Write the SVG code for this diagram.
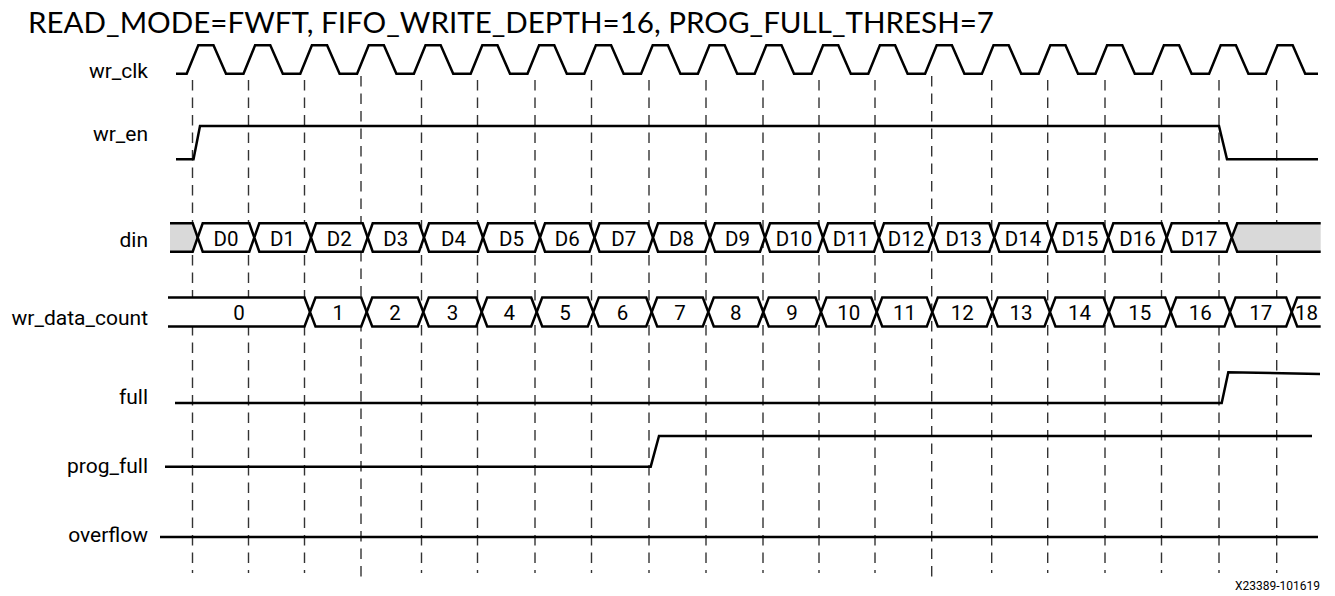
<svg xmlns="http://www.w3.org/2000/svg" width="1335" height="596" viewBox="0 0 1335 596">
<style>
.w{fill:none;stroke:#000;stroke-width:2.5;stroke-linejoin:miter}
.bus{fill:#fff;stroke:#000;stroke-width:2.5}
.gray{fill:#d9d9d9;stroke:#000;stroke-width:2.5}
.dash{stroke:#333;stroke-width:1.4;stroke-dasharray:10.5 7}
.lbl{font-family:Roboto,"Liberation Sans",sans-serif;font-size:21px;fill:#000;text-anchor:end}
.bt{font-family:Roboto,"Liberation Sans",sans-serif;font-size:20.5px;fill:#000;text-anchor:middle}
.title{font-family:Lato,"Liberation Sans",sans-serif;font-size:29.5px;fill:#000}
.note{font-family:Roboto,"Liberation Sans",sans-serif;font-size:12px;fill:#000;text-anchor:end}
</style>
<rect width="1335" height="596" fill="#fff"/>
<text class="title" x="28" y="33" textLength="966" lengthAdjust="spacingAndGlyphs">READ_MODE=FWFT, FIFO_WRITE_DEPTH=16, PROG_FULL_THRESH=7</text>
<g id="connectors">
<line class="dash" x1="192.5" y1="80" x2="192.5" y2="573"/>
<line class="dash" x1="248.5" y1="80" x2="248.5" y2="573"/>
<line class="dash" x1="304.5" y1="80" x2="304.5" y2="573"/>
<line class="dash" x1="361" y1="76" x2="361" y2="578"/>
<line class="dash" x1="421.5" y1="80" x2="421.5" y2="573"/>
<line class="dash" x1="477.5" y1="80" x2="477.5" y2="573"/>
<line class="dash" x1="535" y1="80" x2="535" y2="573"/>
<line class="dash" x1="591.5" y1="80" x2="591.5" y2="573"/>
<line class="dash" x1="649" y1="80" x2="649" y2="573"/>
<line class="dash" x1="706" y1="80" x2="706" y2="573"/>
<line class="dash" x1="763" y1="80" x2="763" y2="573"/>
<line class="dash" x1="819" y1="80" x2="819" y2="573"/>
<line class="dash" x1="875" y1="80" x2="875" y2="573"/>
<line class="dash" x1="931.7" y1="76" x2="931.7" y2="578"/>
<line class="dash" x1="991.7" y1="80" x2="991.7" y2="573"/>
<line class="dash" x1="1047.7" y1="80" x2="1047.7" y2="573"/>
<line class="dash" x1="1105" y1="80" x2="1105" y2="573"/>
<line class="dash" x1="1161.5" y1="80" x2="1161.5" y2="573"/>
<line class="dash" x1="1219" y1="80" x2="1219" y2="573"/>
<line class="dash" x1="1276.7" y1="80" x2="1276.7" y2="573"/>
</g>
<g id="wr_clk">
<text class="lbl" x="148" y="78">wr_clk</text>
<path class="w" d="M176,73.7 L186.7,73.7 L198.3,45.3 L213.5,45.3 L226,73.7 L243.5,73.7 L255.1,45.3 L270.3,45.3 L282.8,73.7 L300.3,73.7 L311.9,45.3 L327.1,45.3 L339.6,73.7 L357.1,73.7 L368.7,45.3 L383.9,45.3 L396.4,73.7 L413.9,73.7 L425.5,45.3 L440.7,45.3 L453.2,73.7 L470.7,73.7 L482.3,45.3 L497.5,45.3 L510,73.7 L527.5,73.7 L539.1,45.3 L554.3,45.3 L566.8,73.7 L584.3,73.7 L595.9,45.3 L611.1,45.3 L623.6,73.7 L641.1,73.7 L652.7,45.3 L667.9,45.3 L680.4,73.7 L697.9,73.7 L709.5,45.3 L724.7,45.3 L737.2,73.7 L754.7,73.7 L766.3,45.3 L781.5,45.3 L794,73.7 L811.5,73.7 L823.1,45.3 L838.3,45.3 L850.8,73.7 L868.3,73.7 L879.9,45.3 L895.1,45.3 L907.6,73.7 L925.1,73.7 L936.7,45.3 L951.9,45.3 L964.4,73.7 L981.9,73.7 L993.5,45.3 L1008.7,45.3 L1021.2,73.7 L1038.7,73.7 L1050.3,45.3 L1065.5,45.3 L1078,73.7 L1095.5,73.7 L1107.1,45.3 L1122.3,45.3 L1134.8,73.7 L1152.3,73.7 L1163.9,45.3 L1179.1,45.3 L1191.6,73.7 L1209.1,73.7 L1220.7,45.3 L1235.9,45.3 L1248.4,73.7 L1265.9,73.7 L1277.5,45.3 L1292.7,45.3 L1305.2,73.7 L1318,73.7"/>
</g>
<g id="wr_en">
<text class="lbl" x="148" y="141">wr_en</text>
<path class="w" d="M176,159.3 H193.5 L200,126 H1219 L1227,159.3 H1318"/>
</g>
<g id="din">
<text class="lbl" x="148" y="247">din</text>
<path class="gray" d="M170,223.3 H192.7 L197.7,237.5 L192.7,251.7 H170"/>
<path class="gray" d="M1320.7,223.3 H1237.2 L1231.7,237.5 L1237.2,251.7 H1320.7"/>
<polygon class="bus" points="197.7,237.5 202.7,223.3 249.3,223.3 254.3,237.5 249.3,251.7 202.7,251.7"/>
<polygon class="bus" points="254.3,237.5 259.3,223.3 306,223.3 311,237.5 306,251.7 259.3,251.7"/>
<polygon class="bus" points="311,237.5 316,223.3 362.7,223.3 367.7,237.5 362.7,251.7 316,251.7"/>
<polygon class="bus" points="367.7,237.5 372.7,223.3 419,223.3 424,237.5 419,251.7 372.7,251.7"/>
<polygon class="bus" points="424,237.5 429,223.3 478,223.3 483,237.5 478,251.7 429,251.7"/>
<polygon class="bus" points="483,237.5 488,223.3 535,223.3 540,237.5 535,251.7 488,251.7"/>
<polygon class="bus" points="540,237.5 545,223.3 589.5,223.3 594.5,237.5 589.5,251.7 545,251.7"/>
<polygon class="bus" points="594.5,237.5 599.5,223.3 648,223.3 653,237.5 648,251.7 599.5,251.7"/>
<polygon class="bus" points="653,237.5 658,223.3 705,223.3 710,237.5 705,251.7 658,251.7"/>
<polygon class="bus" points="710,237.5 715,223.3 760,223.3 765,237.5 760,251.7 715,251.7"/>
<polygon class="bus" points="765,237.5 770,223.3 818,223.3 823,237.5 818,251.7 770,251.7"/>
<polygon class="bus" points="823,237.5 828,223.3 874,223.3 879,237.5 874,251.7 828,251.7"/>
<polygon class="bus" points="879,237.5 884,223.3 928.3,223.3 933.3,237.5 928.3,251.7 884,251.7"/>
<polygon class="bus" points="933.3,237.5 938.3,223.3 989.3,223.3 994.3,237.5 989.3,251.7 938.3,251.7"/>
<polygon class="bus" points="994.3,237.5 999.3,223.3 1046.7,223.3 1051.7,237.5 1046.7,251.7 999.3,251.7"/>
<polygon class="bus" points="1051.7,237.5 1056.7,223.3 1103.3,223.3 1108.3,237.5 1103.3,251.7 1056.7,251.7"/>
<polygon class="bus" points="1108.3,237.5 1113.3,223.3 1161.7,223.3 1166.7,237.5 1161.7,251.7 1113.3,251.7"/>
<polygon class="bus" points="1166.7,237.5 1171.7,223.3 1226.7,223.3 1231.7,237.5 1226.7,251.7 1171.7,251.7"/>
<text class="bt" x="226" y="245.5">D0</text>
<text class="bt" x="282.6" y="245.5">D1</text>
<text class="bt" x="339.3" y="245.5">D2</text>
<text class="bt" x="395.8" y="245.5">D3</text>
<text class="bt" x="453.5" y="245.5">D4</text>
<text class="bt" x="511.5" y="245.5">D5</text>
<text class="bt" x="567.2" y="245.5">D6</text>
<text class="bt" x="623.7" y="245.5">D7</text>
<text class="bt" x="681.5" y="245.5">D8</text>
<text class="bt" x="737.5" y="245.5">D9</text>
<text class="bt" x="794" y="245.5">D10</text>
<text class="bt" x="851" y="245.5">D11</text>
<text class="bt" x="906.1" y="245.5">D12</text>
<text class="bt" x="963.8" y="245.5">D13</text>
<text class="bt" x="1023" y="245.5">D14</text>
<text class="bt" x="1080" y="245.5">D15</text>
<text class="bt" x="1137.5" y="245.5">D16</text>
<text class="bt" x="1199.2" y="245.5">D17</text>
</g>
<g id="wr_data_count">
<text class="lbl" x="148" y="325">wr_data_count</text>
<path class="bus" d="M168,297.5 H304.5 L310,312 L304.5,326.5 H168"/>
<polygon class="bus" points="310,312 315.5,297.5 361.2,297.5 366.7,312 361.2,326.5 315.5,326.5"/>
<polygon class="bus" points="366.7,312 372.2,297.5 417.8,297.5 423.3,312 417.8,326.5 372.2,326.5"/>
<polygon class="bus" points="423.3,312 428.8,297.5 476.2,297.5 481.7,312 476.2,326.5 428.8,326.5"/>
<polygon class="bus" points="481.7,312 487.2,297.5 531.2,297.5 536.7,312 531.2,326.5 487.2,326.5"/>
<polygon class="bus" points="536.7,312 542.2,297.5 587.8,297.5 593.3,312 587.8,326.5 542.2,326.5"/>
<polygon class="bus" points="593.3,312 598.8,297.5 646.2,297.5 651.7,312 646.2,326.5 598.8,326.5"/>
<polygon class="bus" points="651.7,312 657.2,297.5 702.8,297.5 708.3,312 702.8,326.5 657.2,326.5"/>
<polygon class="bus" points="708.3,312 713.8,297.5 757.8,297.5 763.3,312 757.8,326.5 713.8,326.5"/>
<polygon class="bus" points="763.3,312 768.8,297.5 815.5,297.5 821,312 815.5,326.5 768.8,326.5"/>
<polygon class="bus" points="821,312 826.5,297.5 871.2,297.5 876.7,312 871.2,326.5 826.5,326.5"/>
<polygon class="bus" points="876.7,312 882.2,297.5 926.8,297.5 932.3,312 926.8,326.5 882.2,326.5"/>
<polygon class="bus" points="932.3,312 937.8,297.5 986.8,297.5 992.3,312 986.8,326.5 937.8,326.5"/>
<polygon class="bus" points="992.3,312 997.8,297.5 1044.5,297.5 1050,312 1044.5,326.5 997.8,326.5"/>
<polygon class="bus" points="1050,312 1055.5,297.5 1103.5,297.5 1109,312 1103.5,326.5 1055.5,326.5"/>
<polygon class="bus" points="1109,312 1114.5,297.5 1165.2,297.5 1170.7,312 1165.2,326.5 1114.5,326.5"/>
<polygon class="bus" points="1170.7,312 1176.2,297.5 1224.5,297.5 1230,312 1224.5,326.5 1176.2,326.5"/>
<polygon class="bus" points="1230,312 1235.5,297.5 1286.2,297.5 1291.7,312 1286.2,326.5 1235.5,326.5"/>
<path class="bus" d="M1320.7,297.5 H1297.2 L1291.7,312 L1297.2,326.5 H1320.7"/>
<text class="bt" x="239" y="319.5">0</text>
<text class="bt" x="338.3" y="319.5">1</text>
<text class="bt" x="395" y="319.5">2</text>
<text class="bt" x="452.5" y="319.5">3</text>
<text class="bt" x="509.2" y="319.5">4</text>
<text class="bt" x="565" y="319.5">5</text>
<text class="bt" x="622.5" y="319.5">6</text>
<text class="bt" x="680" y="319.5">7</text>
<text class="bt" x="735.8" y="319.5">8</text>
<text class="bt" x="792.1" y="319.5">9</text>
<text class="bt" x="848.8" y="319.5">10</text>
<text class="bt" x="904.5" y="319.5">11</text>
<text class="bt" x="962.3" y="319.5">12</text>
<text class="bt" x="1021.1" y="319.5">13</text>
<text class="bt" x="1079.5" y="319.5">14</text>
<text class="bt" x="1139.8" y="319.5">15</text>
<text class="bt" x="1200.3" y="319.5">16</text>
<text class="bt" x="1260.8" y="319.5">17</text>
<text class="bt" x="1306.5" y="319.5">18</text>
</g>
<g id="full">
<text class="lbl" x="148" y="404">full</text>
<path class="w" d="M175,403 H1221.7 L1228.3,372.3 L1320,374"/>
</g>
<g id="prog_full">
<text class="lbl" x="148" y="473">prog_full</text>
<path class="w" d="M165,466.7 H650.7 L659,436 H1312"/>
</g>
<g id="overflow">
<text class="lbl" x="148" y="542">overflow</text>
<path class="w" d="M160,537 H1318"/>
</g>
<text class="note" x="1320" y="590">X23389-101619</text>
</svg>
